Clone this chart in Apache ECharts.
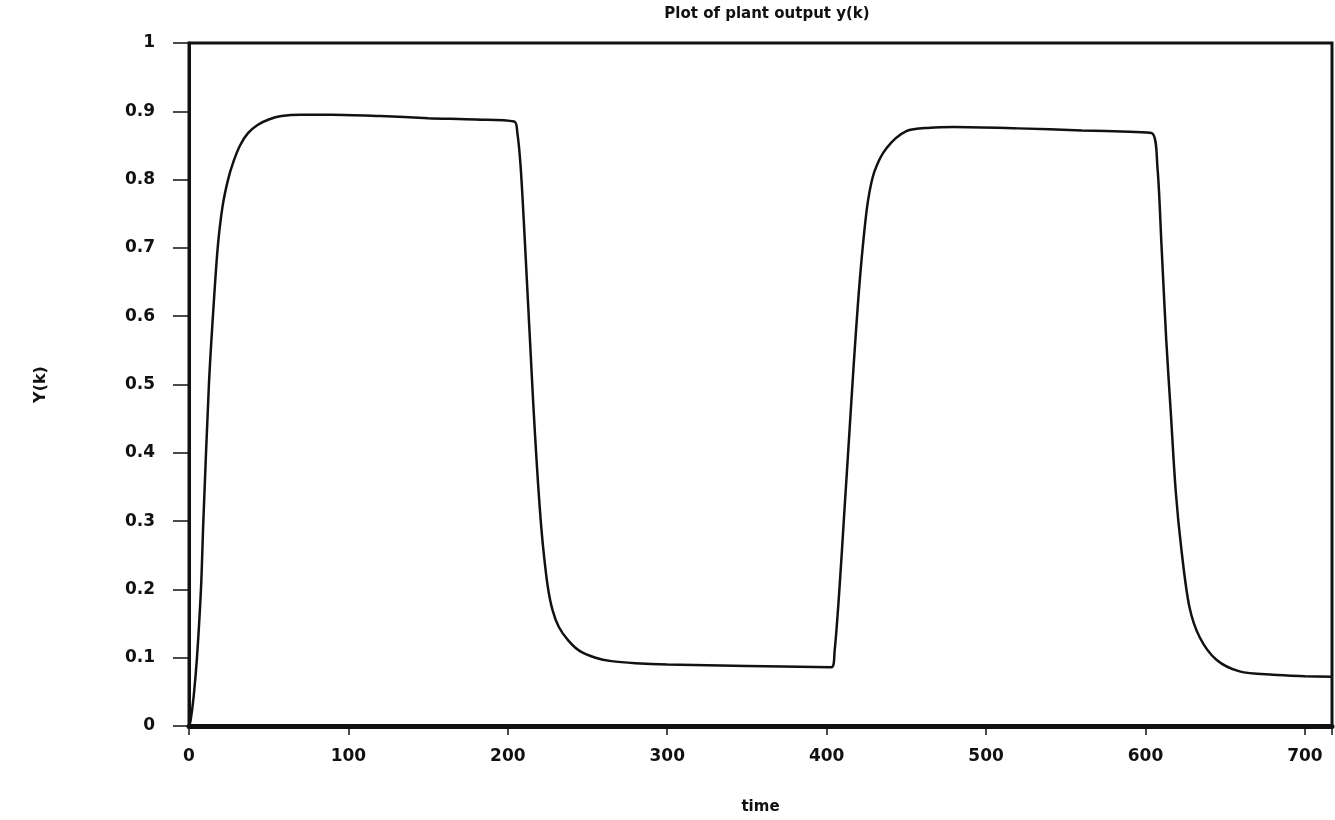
<!DOCTYPE html>
<html>
<head>
<meta charset="utf-8">
<title>Plot of plant output y(k)</title>
<script src="https://cdn.jsdelivr.net/npm/echarts@6/dist/echarts.min.js"></script>
<style>
  html, body { margin: 0; padding: 0; background: #fff; }
  #main { width: 1335px; height: 820px; }
</style>
</head>
<body>
<div id="main"></div>
<script>
// values
var time = [0, 1, 3, 5, 7.5, 9, 12.5, 15, 18, 21, 24.5, 28, 32, 37, 43, 50, 58, 70, 90, 120, 150, 180, 204,
  206, 208, 210, 212, 214, 216, 218, 220, 222, 225, 228, 232, 238, 245, 255, 265, 280, 300, 350, 403,
  405, 408, 411, 414, 417, 420, 423, 426, 430, 437.5, 450, 465, 480, 520, 560, 590, 604,
  607.5, 610, 613, 616, 619, 622.5, 627.5, 634, 644.5, 659, 680, 700, 717];
var yk = [0, 0.008, 0.045, 0.1, 0.2, 0.3, 0.5, 0.6, 0.7, 0.76, 0.8, 0.827, 0.85, 0.868, 0.88, 0.888, 0.893, 0.895, 0.895, 0.893, 0.89, 0.888, 0.885,
  0.868, 0.82, 0.74, 0.65, 0.56, 0.47, 0.39, 0.32, 0.265, 0.205, 0.17, 0.145, 0.125, 0.11, 0.1, 0.095, 0.092, 0.09, 0.088, 0.086,
  0.11, 0.2, 0.31, 0.42, 0.53, 0.63, 0.71, 0.77, 0.812, 0.846, 0.871, 0.876, 0.877, 0.875, 0.872, 0.87, 0.868,
  0.818, 0.706, 0.566, 0.454, 0.343, 0.259, 0.175, 0.13, 0.097, 0.08, 0.075, 0.073, 0.072];
var xTicks = [0, 100, 200, 300, 400, 500, 600, 700];
var yTicks = [0, 0.1, 0.2, 0.3, 0.4, 0.5, 0.6, 0.7, 0.8, 0.9, 1];

var pts = [];
for (var i = 0; i < time.length; i++) {
  pts.push([time[i], yk[i]]);
}

var chart = echarts.init(document.getElementById('main'));
var lblFont = {
  color: '#111',
  fontFamily: 'DejaVu Sans',
  fontWeight: 'bold',
  fontSize: 17
};

option = {
  backgroundColor: '#fff',
  animation: false,
  title: {
    text: 'Plot of plant output y(k)',
    left: 762,
    textAlign: 'center',
    top: 2,
    textStyle: {
      color: '#111',
      fontFamily: 'DejaVu Sans',
      fontWeight: 'bold',
      fontSize: 15
    }
  },
  grid: {
    left: 189,
    right: 2,
    top: 43,
    bottom: 93,
    show: true,
    borderColor: '#111',
    borderWidth: 3,
    backgroundColor: 'transparent'
  },
  xAxis: {
    type: 'value',
    min: 0,
    max: 717,
    interval: 100,
    name: 'time',
    nameLocation: 'middle',
    nameGap: 74,
    nameTextStyle: {
      color: '#111',
      fontFamily: 'DejaVu Sans',
      fontWeight: 'bold',
      fontSize: 15
    },
    axisLine: { show: true, lineStyle: { color: '#111', width: 5 } },
    axisTick: { show: true, inside: false, length: 9, lineStyle: { color: '#111', width: 1.5 } },
    axisLabel: Object.assign({
      margin: 22,
      formatter: function (v) { return xTicks.indexOf(v) >= 0 ? v : ''; }
    }, lblFont),
    splitLine: { show: false }
  },
  yAxis: {
    type: 'value',
    min: 0,
    max: 1,
    interval: 0.1,
    name: 'Y(k)',
    nameLocation: 'middle',
    nameGap: 140,
    nameRotate: 90,
    nameTextStyle: {
      color: '#111',
      fontFamily: 'DejaVu Sans',
      fontWeight: 'bold',
      fontSize: 16
    },
    axisLine: { show: true, lineStyle: { color: '#111', width: 3 } },
    axisTick: { show: true, inside: false, length: 16, lineStyle: { color: '#111', width: 1.5 } },
    axisLabel: Object.assign({
      margin: 34,
      formatter: function (v) {
        var r = Math.round(v * 10) / 10;
        return yTicks.indexOf(r) >= 0 ? String(r) : '';
      }
    }, lblFont),
    splitLine: { show: false }
  },
  series: [{
    type: 'line',
    name: 'y(k)',
    data: pts,
    showSymbol: false,
    smooth: 0.3,
    lineStyle: { color: '#111', width: 2.5 },
    itemStyle: { color: '#111' }
  }]
};
chart.setOption(option);
</script>
</body>
</html>
